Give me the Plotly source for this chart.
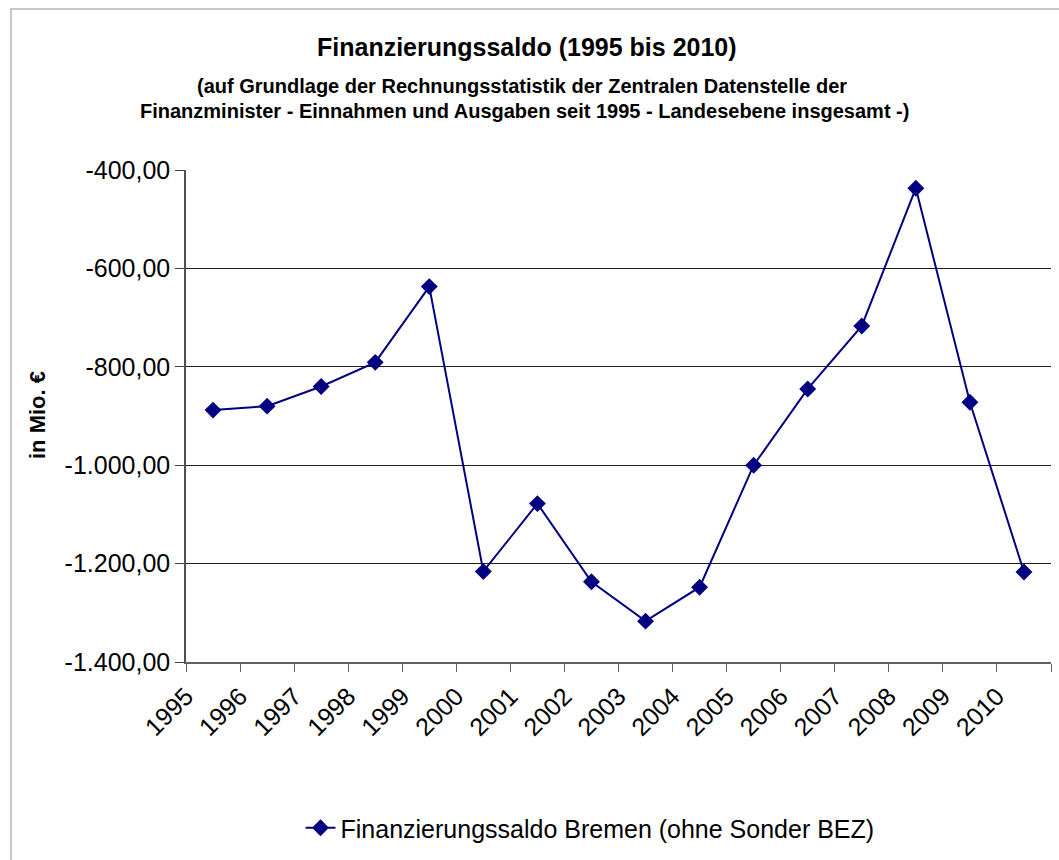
import plotly.graph_objects as go

years = ["1995", "1996", "1997", "1998", "1999", "2000", "2001", "2002",
         "2003", "2004", "2005", "2006", "2007", "2008", "2009", "2010"]
saldo = [-888, -880, -840, -791, -637, -1216, -1078, -1237,
         -1317, -1248, -1000, -845, -717, -437, -872, -1217]
y_ticks = [-1400, -1200, -1000, -800, -600, -400]
y_tick_labels = ["-1.400,00", "-1.200,00", "-1.000,00", "-800,00", "-600,00", "-400,00"]
series_name = "Finanzierungssaldo Bremen (ohne Sonder BEZ)"
title = "Finanzierungssaldo (1995 bis 2010)"
subtitle1 = "(auf Grundlage der Rechnungsstatistik der Zentralen Datenstelle der"
subtitle2 = "Finanzminister - Einnahmen und Ausgaben seit 1995 - Landesebene insgesamt -)"
y_title = "in Mio. €"

# plot area in pixels
L, R, T, B = 186, 1051, 170, 662
W, H = R - L, B - T
def px(x):
    return (x - L) / W
def py(y):
    return (B - y) / H

FONT = "Arial, Liberation Sans, sans-serif"
navy = "#000080"

xpos = [i + 0.5 for i in range(len(years))]

fig = go.Figure()
fig.add_trace(go.Scatter(
    x=xpos, y=saldo, mode="lines+markers", name=series_name,
    line=dict(color=navy, width=2),
    marker=dict(symbol="diamond", size=13, color=navy),
    showlegend=True,
))

fig.update_layout(
    width=1059, height=860,
    margin=dict(l=L, r=1059 - R, t=T, b=860 - B),
    paper_bgcolor="white", plot_bgcolor="white",
    font=dict(family=FONT, color="black", size=22),
    showlegend=True,
    legend=dict(orientation="h", x=px(590), y=py(828), xanchor="center",
                yanchor="middle", font=dict(size=25, family=FONT),
                bgcolor="rgba(0,0,0,0)"),
    xaxis=dict(
        range=[0, len(years)],
        tickvals=list(range(len(years) + 1)),
        ticktext=years + [""],
        tickangle=-45,
        ticks="outside", ticklen=8, tickcolor="#606060", tickwidth=1,
        showline=True, linecolor="#606060", linewidth=1.5,
        showgrid=False, zeroline=False,
        tickfont=dict(size=25, family=FONT),
        fixedrange=True,
    ),
    yaxis=dict(
        range=[-1400, -400],
        tickvals=y_ticks, ticktext=y_tick_labels,
        ticks="outside", ticklen=9, tickcolor="#404040", tickwidth=1,
        showline=True, linecolor="#505050", linewidth=1.5,
        showgrid=True, gridcolor="#202020", gridwidth=1,
        zeroline=False,
        tickfont=dict(size=25, family=FONT),
        fixedrange=True,
    ),
    annotations=[
        dict(text="<b>%s</b>" % title, x=px(527), y=py(47), xref="paper", yref="paper",
             showarrow=False, xanchor="center", yanchor="middle",
             font=dict(size=25, family=FONT)),
        dict(text="<b>%s</b>" % subtitle1, x=px(522), y=py(86), xref="paper", yref="paper",
             showarrow=False, xanchor="center", yanchor="middle",
             font=dict(size=20, family=FONT)),
        dict(text="<b>%s</b>" % subtitle2, x=px(524), y=py(111), xref="paper", yref="paper",
             showarrow=False, xanchor="center", yanchor="middle",
             font=dict(size=20, family=FONT)),
        dict(text="<b>%s</b>" % y_title, x=px(37), y=py(415), xref="paper", yref="paper",
             showarrow=False, xanchor="center", yanchor="middle", textangle=-90,
             font=dict(size=22, family=FONT)),
    ],
    shapes=[
        dict(type="rect", xref="paper", yref="paper",
             x0=px(11), x1=px(1070), y0=py(875), y1=py(9),
             line=dict(color="#c8c8c8", width=2), layer="below"),
    ],
)

fig.write_html("out.html", config={"displayModeBar": False},
               post_script="document.body.style.margin='0';document.body.style.padding='0';")
